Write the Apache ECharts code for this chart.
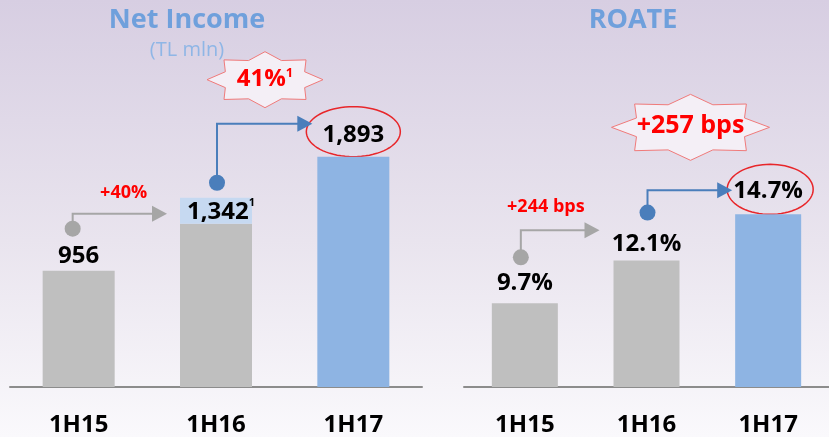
<!DOCTYPE html>
<html>
<head>
<meta charset="utf-8">
<script src="https://cdn.jsdelivr.net/npm/echarts@6/dist/echarts.min.js"></script>
</head>
<body style="margin: 0">
<div id="container" style="width: 829px; height: 437px"></div>
<script type="text/javascript">
    var periods = ['1H15', '1H16', '1H17'];
    var netIncome = [956, 1342, 1893];
    var roate = [9.7, 12.1, 14.7];
    var niStep = '+40%';
    var niTotal = '41%';
    var roateStep = '+244 bps';
    var roateTotal = '+257 bps';

    var FONT = '"Open Sans", sans-serif';
    var GRAY = '#bfbfbf';
    var BLUE = '#8eb4e3';
    var ARROW_GRAY = '#a6a6a6';
    var ARROW_BLUE = '#4a7ebb';

    var dom = document.getElementById('container');
    var myChart = echarts.init(dom, null, {renderer: 'canvas'});

    function barColors(n) {
        return function (p) { return p.dataIndex === n - 1 ? BLUE : GRAY; };
    }

    var option = {
        animation: false,
        grid: [
            {left: 10, width: 412, top: 22, bottom: 50},
            {left: 464, width: 371, top: 31, bottom: 50}
        ],
        xAxis: [0, 1].map(function (i) {
            return {
                type: 'category', gridIndex: i, data: periods,
                axisLine: {lineStyle: {color: '#8c8c8c', width: 2}},
                axisTick: {show: false},
                axisLabel: {color: '#000', fontFamily: FONT, fontWeight: 'bold', fontSize: 24, margin: 26}
            };
        }),
        yAxis: [
            {type: 'value', gridIndex: 0, min: 0, max: 3000, show: false, splitLine: {show: false}},
            {type: 'value', gridIndex: 1, min: 5, max: 25, show: false, splitLine: {show: false}}
        ],
        series: [
            {
                type: 'bar', xAxisIndex: 0, yAxisIndex: 0, barWidth: 72,
                itemStyle: {color: barColors(netIncome.length)},
                data: netIncome.map(function (v, i) {
                    var d = {value: v, label: {show: true, position: 'top', distance: [3, 0, 10][i]}};
                    if (i === 1) {
                        // highlighted label box sitting on the bar
                        d.label.formatter = '{v|' + v.toLocaleString('en-US') + '}{s|1}';
                        d.label.backgroundColor = '#c6d9f1';
                        d.label.width = 72;
                        d.label.height = 26;
                        d.label.align = 'center';
                        d.label.rich = {
                            v: {fontFamily: FONT, fontWeight: 'bold', fontSize: 24, color: '#000', padding: [2, 0, 0, 10]},
                            s: {fontFamily: FONT, fontSize: 11, color: '#000', verticalAlign: 'top'}
                        };
                    }
                    return d;
                }),
                label: {
                    fontFamily: FONT, fontWeight: 'bold', fontSize: 24, color: '#000',
                    formatter: function (p) { return p.value.toLocaleString('en-US'); }
                }
            },
            {
                type: 'bar', xAxisIndex: 1, yAxisIndex: 1, barWidth: 66,
                itemStyle: {color: barColors(roate.length)},
                data: roate.map(function (v, i) {
                    return {value: v, label: {show: true, position: 'top', distance: [8, 4, 11][i]}};
                }),
                label: {
                    fontFamily: FONT, fontWeight: 'bold', fontSize: 24, color: '#000',
                    formatter: function (p) { return p.value.toFixed(1) + '%'; }
                }
            }
        ]
    };
    myChart.setOption(option);

    // annotation helpers
    function starPts(cx, cy, rx, ry, inner) {
        var pts = [];
        for (var i = 0; i < 16; i++) {
            var a = -Math.PI / 2 + i * Math.PI / 8;
            var r = i % 2 ? inner : 1;
            pts.push([cx + rx * r * Math.cos(a), cy + ry * r * Math.sin(a)]);
        }
        return pts;
    }
    function ellipsePts(cx, cy, rx, ry) {
        var pts = [];
        for (var i = 0; i < 72; i++) {
            var a = i * Math.PI * 2 / 72;
            pts.push([cx + rx * Math.cos(a), cy + ry * Math.sin(a)]);
        }
        return pts;
    }
    function arrow(x0, y0, yTurn, x1, color) {
        return [
            {type: 'polyline', shape: {points: [[x0, y0], [x0, yTurn], [x1 - 14, yTurn]]},
                style: {stroke: color, lineWidth: 2, fill: null}},
            {type: 'polygon', shape: {points: [[x1 - 15, yTurn - 8], [x1, yTurn], [x1 - 15, yTurn + 8]]},
                style: {fill: color}},
            {type: 'circle', shape: {cx: x0, cy: y0, r: 8}, style: {fill: color}}
        ];
    }
    function star(cx, cy, rx, ry) {
        return {type: 'polygon', shape: {points: starPts(cx, cy, rx, ry, 0.74)},
            style: {fill: '#f4eff6', stroke: '#f07a7a', lineWidth: 1}};
    }
    function ring(cx, cy, rx, ry) {
        return {type: 'polygon', shape: {points: ellipsePts(cx, cy, rx, ry)},
            style: {fill: null, stroke: '#e8262a', lineWidth: 1.5}};
    }
    function txt(x, y, text, size, color, weight, rich) {
        return {type: 'text', x: x, y: y, style: {
            text: text, fontFamily: FONT, fontSize: size, fontWeight: weight || 'bold', fill: color,
            align: 'center', verticalAlign: 'middle', rich: rich}};
    }

    var L = function (i) { return myChart.convertToPixel({gridIndex: 0}, [i, netIncome[i]]); };
    var R = function (i) { return myChart.convertToPixel({gridIndex: 1}, [i, roate[i]]); };
    var c0 = L(0), c1 = L(1), c2 = L(2);
    var d0 = R(0), d1 = R(1), d2 = R(2);

    var els = [
        {type: 'rect', z: -100, silent: true, shape: {x: 0, y: 0, width: 829, height: 437},
            style: {fill: new echarts.graphic.LinearGradient(0, 0, 0, 1, [
                {offset: 0, color: '#d7cee2'}, {offset: 0.55, color: '#e9e4ee'}, {offset: 1, color: '#faf9fc'}])}},
        txt(187, 20, 'Net Income', 27, '#6fa0dc'),
        txt(187, 50, '(TL mln)', 20, '#8fb6e6', 'normal'),
        txt(633, 20, 'ROATE', 27, '#6fa0dc'),
        star(c1[0] + 49, c2[1] - 77, 58, 28),
        txt(c1[0] + 49, c2[1] - 78, '{a|' + niTotal + '}{b|1}', 24, '#ff0000', 'bold', {
            a: {fontFamily: FONT, fontSize: 24, fontWeight: 'bold', color: '#ff0000'},
            b: {fontFamily: FONT, fontSize: 13, fontWeight: 'bold', color: '#ff0000', verticalAlign: 'top'}
        }),
        star(d1[0] + 44, d2[1] - 87, 79, 33),
        txt(d1[0] + 44, d2[1] - 88, roateTotal, 25, '#ff0000'),
        ring(c2[0], c2[1] - 25, 47, 25),
        ring(d2[0] + 2, d2[1] - 25, 43, 25),
        txt(c0[0] + 45, c0[1] - 78, niStep, 18, '#ff0000'),
        txt(d0[0] + 21, d0[1] - 96, roateStep, 18, '#ff0000')
    ];
    els = els.concat(arrow(c0[0] - 6, c0[1] - 42, c0[1] - 57, c1[0] - 49, ARROW_GRAY));
    els = els.concat(arrow(c1[0] + 1, c1[1] - 41, c2[1] - 33, c2[0] - 41, ARROW_BLUE));
    els = els.concat(arrow(d0[0] - 4, d0[1] - 46, d0[1] - 73, d1[0] - 47, ARROW_GRAY));
    els = els.concat(arrow(d1[0] + 1, d1[1] - 48, d2[1] - 24, d2[0] - 36, ARROW_BLUE));

    myChart.setOption({graphic: {elements: els}});

    window.addEventListener('resize', myChart.resize);
</script>
</body>
</html>
